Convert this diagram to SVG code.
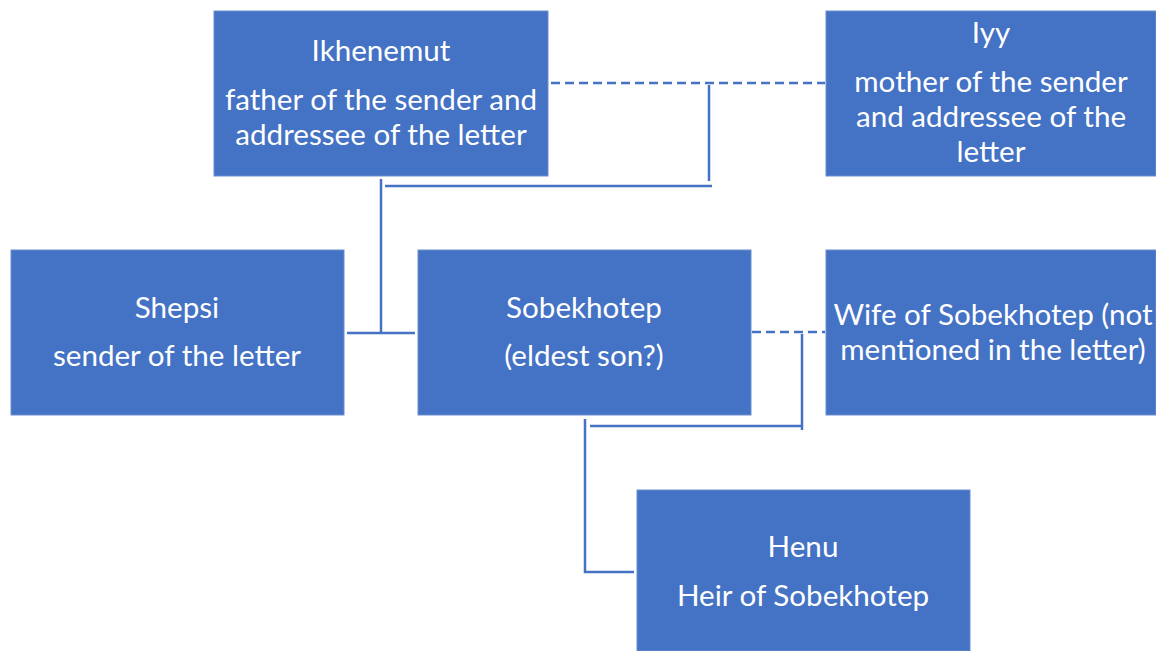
<svg xmlns="http://www.w3.org/2000/svg" width="1156" height="651" viewBox="0 0 1156 651">
<style>
.box{fill:#4472C4;stroke:#6d8fd0;stroke-width:1}
.t{font-family:Lato,"Liberation Sans",sans-serif;font-size:29.6px;fill:#ffffff;text-anchor:middle}
.ln{fill:none;stroke:#4472C4;stroke-width:2.5}
.dash{fill:none;stroke:#4472C4;stroke-width:2.5;stroke-dasharray:9 5}
</style>
<rect width="1156" height="651" fill="#ffffff"/>
<g id="connectors">
<path class="dash" d="M551 83 H825"/>
<path class="ln" d="M709 85 V181"/>
<path class="ln" d="M385 186 H712"/>
<path class="ln" d="M381 179 V333"/>
<path class="ln" d="M347 333 H415"/>
<path class="dash" d="M752 332 H825"/>
<path class="ln" d="M802 334 V430"/>
<path class="ln" d="M590 426 H802"/>
<path class="ln" d="M585 419 V572 H634"/>
</g>
<g id="ikhenemut">
<rect class="box" x="214" y="11" width="334" height="165"/>
<text class="t" x="381" y="61">Ikhenemut</text>
<text class="t" x="381" y="110">father of the sender and</text>
<text class="t" x="381" y="145">addressee of the letter</text>
</g>
<g id="iyy">
<rect class="box" x="826" y="11" width="330" height="165"/>
<text class="t" x="991" y="43">Iyy</text>
<text class="t" x="991" y="92">mother of the sender</text>
<text class="t" x="991" y="127">and addressee of the</text>
<text class="t" x="991" y="162">letter</text>
</g>
<g id="shepsi">
<rect class="box" x="11" y="250" width="333" height="165"/>
<text class="t" x="177" y="318">Shepsi</text>
<text class="t" x="177" y="366">sender of the letter</text>
</g>
<g id="sobekhotep">
<rect class="box" x="418" y="250" width="333" height="165"/>
<text class="t" x="584" y="318">Sobekhotep</text>
<text class="t" x="584" y="366">(eldest son?)</text>
</g>
<g id="wife">
<rect class="box" x="826" y="250" width="330" height="165"/>
<text class="t" x="993" y="325">Wife of Sobekhotep (not</text>
<text class="t" x="993" y="360">mentioned in the letter)</text>
</g>
<g id="henu">
<rect class="box" x="637" y="490" width="333" height="161"/>
<text class="t" x="803" y="557">Henu</text>
<text class="t" x="803" y="606">Heir of Sobekhotep</text>
</g>
</svg>
